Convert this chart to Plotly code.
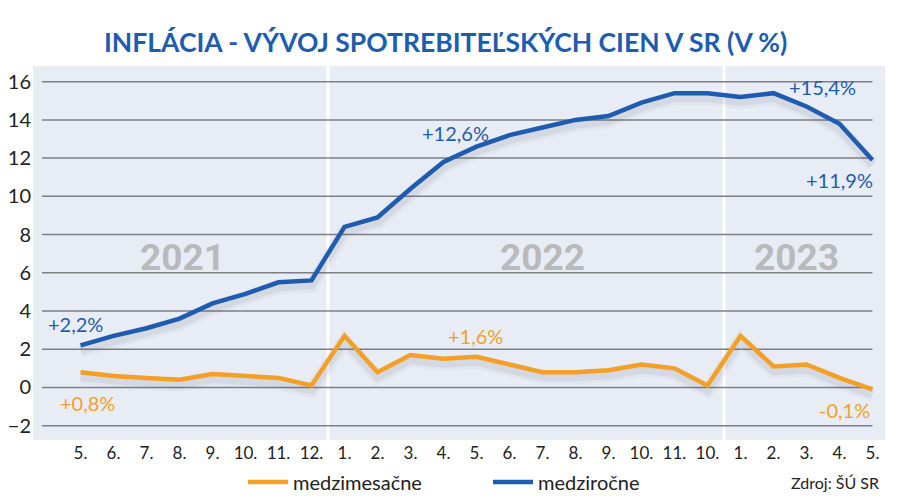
import plotly.graph_objects as go

# ---- data ----
month_labels = ["5.", "6.", "7.", "8.", "9.", "10.", "11.", "12.",
                "1.", "2.", "3.", "4.", "5.", "6.", "7.", "8.", "9.", "10.", "11.", "10.",
                "1.", "2.", "3.", "4.", "5."]
medzimesacne = [0.8, 0.6, 0.5, 0.4, 0.7, 0.6, 0.5, 0.1,
                2.7, 0.8, 1.7, 1.5, 1.6, 1.2, 0.8, 0.8, 0.9, 1.2, 1.0, 0.1,
                2.7, 1.1, 1.2, 0.5, -0.1]
medzirocne = [2.2, 2.7, 3.1, 3.6, 4.4, 4.9, 5.5, 5.6,
              8.4, 8.9, 10.4, 11.8, 12.6, 13.2, 13.6, 14.0, 14.2, 14.9, 15.4, 15.4,
              15.2, 15.4, 14.7, 13.8, 11.9]
years = ["2021", "2022", "2023"]
year_pos = [3.1, 14.0, 21.7]
y_ticks = [-2, 0, 2, 4, 6, 8, 10, 12, 14, 16]

series_names = ["medzimesačne", "medziročne"]
callouts = [  # (text, x index, y value, series)
    ("+2,2%", -0.14, 3.3, 1),
    ("+0,8%", 0.2, -0.8, 0),
    ("+12,6%", 11.35, 13.3, 1),
    ("+1,6%", 11.98, 2.7, 0),
    ("+15,4%", 22.5, 15.7, 1),
    ("+11,9%", 22.99, 10.85, 1),
    ("-0,1%", 23.14, -1.2, 0),
]

BLUE = "#1d5caf"
ORANGE = "#f4a026"
FONT = "Lato, Roboto, sans-serif"
x = list(range(len(month_labels)))
colors = [ORANGE, BLUE]

W, H = 900, 499
L, R, T, B = 33, 15, 66, 59
pw, ph = W - L - R, H - T - B
Y_RANGE = [-2.75, 16.82]
px_per_unit = ph / (Y_RANGE[1] - Y_RANGE[0])
shadow_shift = 5 / px_per_unit  # shadow drawn 5 px lower via a shifted overlay axis

fig = go.Figure()
# soft shadows (overlay axis y2 with shifted range)
for vals in [medzimesacne, medzirocne]:
    for w, a in [(14, 0.04), (8, 0.07)]:
        fig.add_trace(go.Scatter(x=x, y=vals, mode="lines", yaxis="y2", showlegend=False,
                                 line=dict(color=f"rgba(40,50,80,{a})", width=w), hoverinfo="skip"))
# main lines (overlay axis y3 with same range as y)
for name, vals, col in [(series_names[0], medzimesacne, ORANGE), (series_names[1], medzirocne, BLUE)]:
    fig.add_trace(go.Scatter(x=x, y=vals, mode="lines", name=name, yaxis="y3",
                             line=dict(color=col, width=4.5), hoverinfo="skip"))

shapes = []
for t in y_ticks:
    shapes.append(dict(type="line", xref="x", yref="y", x0=-1.17, x1=24.0, y0=t, y1=t,
                       line=dict(color="#7d7f84", width=1.5), layer="below"))
for sep in [7.5, 19.5]:
    shapes.append(dict(type="line", xref="x", yref="paper", x0=sep, x1=sep, y0=0, y1=1,
                       line=dict(color="white", width=3), layer="below"))

annotations = []
for yr, px in zip(years, year_pos):
    annotations.append(dict(x=px, y=6.8, xref="x", yref="y", text=yr, showarrow=False,
                            font=dict(family="Roboto", size=37, color="#b9babc", weight="bold")))
for txt, cx, cy, s in callouts:
    annotations.append(dict(x=cx, y=cy, xref="x", yref="y", text=txt, showarrow=False,
                            font=dict(family=FONT, size=20, color=colors[s])))

annotations.append(dict(x=(881 - L) / pw, y=(H - B - 482) / ph, xref="paper", yref="paper",
                        text="Zdroj: ŠÚ SR", showarrow=False, xanchor="right", yanchor="middle",
                        font=dict(family=FONT, size=16, color="#222")))
annotations.append(dict(x=(445 - L) / pw, y=(H - B - 42) / ph, xref="paper", yref="paper",
                        text="<b>INFLÁCIA - VÝVOJ SPOTREBITEĽSKÝCH CIEN V SR (V %)</b>",
                        showarrow=False, xanchor="center", yanchor="middle",
                        font=dict(family=FONT, size=26.5, color=BLUE)))

fig.update_layout(
    width=W, height=H,
    margin=dict(l=L, r=R, t=T, b=B, autoexpand=False),
    paper_bgcolor="white", plot_bgcolor="#e8edf5",
    showlegend=True,
    legend=dict(orientation="h", xref="container", yref="container",
                x=243 / W, xanchor="left", y=1 - 482 / H, yanchor="middle",
                font=dict(family=FONT, size=20, color="#222"),
                bgcolor="rgba(0,0,0,0)", itemwidth=40, entrywidth=190, entrywidthmode="pixels"),
    xaxis=dict(range=[-1.44, 24.38], tickmode="array", tickvals=x, ticktext=month_labels,
               showgrid=False, zeroline=False, ticks="", showline=False, automargin=False,
               ticklabelstandoff=1,
               tickfont=dict(family=FONT, size=17, color="#222")),
    yaxis=dict(range=Y_RANGE, tickmode="array", tickvals=y_ticks,
               showgrid=False, zeroline=False, ticks="", showline=False, automargin=False,
               ticklabelstandoff=1,
               tickfont=dict(family=FONT, size=20, color="#222")),
    yaxis2=dict(range=[Y_RANGE[0] + shadow_shift, Y_RANGE[1] + shadow_shift], overlaying="y",
                visible=False, showgrid=False, zeroline=False),
    yaxis3=dict(range=Y_RANGE, overlaying="y", visible=False, showgrid=False, zeroline=False),
    shapes=shapes, annotations=annotations,
)
fig.write_html("out.html", config={"displayModeBar": False},
               post_script="document.body.style.margin='0';document.body.style.overflow='hidden';")
